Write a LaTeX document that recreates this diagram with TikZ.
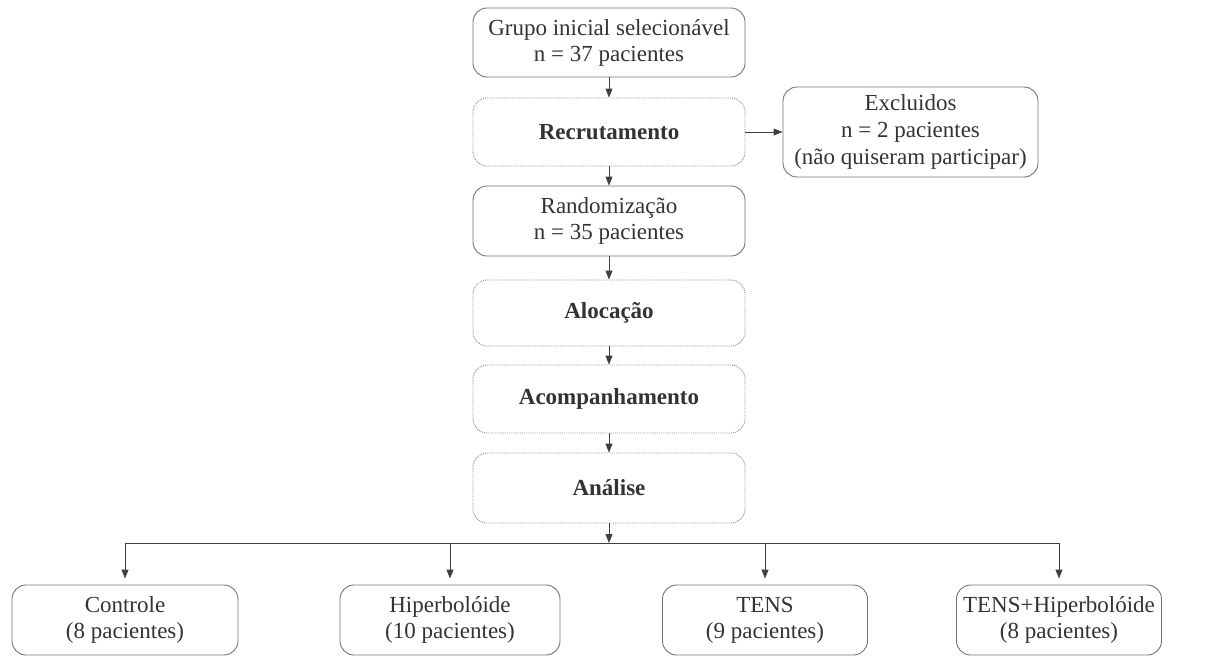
\documentclass[tikz,border=0pt]{standalone}
\usepackage{fontspec}
\setmainfont{Liberation Serif}
\usetikzlibrary{arrows.meta}
\begin{document}
\begin{tikzpicture}[x=1pt,y=-1pt,
  box/.style={draw=black!55, line width=0.9pt, rounded corners=14pt, align=center, text=black!80,
    font=\fontsize{23}{26}\selectfont, inner sep=0pt},
  dotbox/.style={box, draw=black!45, densely dotted},
  arr/.style={draw=black!75, line width=0.9pt, -{Triangle[length=9pt,width=7pt]}},
  ln/.style={draw=black!75, line width=0.9pt}]
\useasboundingbox (0,0) rectangle (1213,657);
\node[box, minimum width=272pt, minimum height=69pt] (top) at (609,42.5) {Grupo inicial selecionável\\n = 37 pacientes};
\node[dotbox, minimum width=272pt, minimum height=68pt] (rec) at (609,132) {\textbf{Recrutamento}};
\node[box, minimum width=272pt, minimum height=70pt] (rand) at (609,221) {Randomização\\n = 35 pacientes};
\node[dotbox, minimum width=272pt, minimum height=66pt] (aloc) at (609,313) {\textbf{Alocação}};
\node[dotbox, minimum width=272pt, minimum height=68pt] (acomp) at (609,399) {\textbf{Acompanhamento}};
\node[dotbox, minimum width=272pt, minimum height=70pt] (anal) at (609,488) {\textbf{Análise}};
\node[box, minimum width=255pt, minimum height=90pt, font=\fontsize{23}{27}\selectfont] (excl) at (910.5,132) {Excluidos\\n = 2 pacientes\\(não quiseram participar)};
\node[box, minimum width=226pt, minimum height=70pt] (c1) at (125,620) {Controle\\(8 pacientes)};
\node[box, minimum width=220pt, minimum height=70pt] (c2) at (450,620) {Hiperbolóide\\(10 pacientes)};
\node[box, minimum width=205pt, minimum height=70pt] (c3) at (765,620) {TENS\\(9 pacientes)};
\node[box, minimum width=205pt, minimum height=70pt] (c4) at (1059,620) {TENS+Hiperbolóide\\(8 pacientes)};
\coordinate (j) at (609,543);
\coordinate (jl) at (125,543);
\coordinate (jr) at (1059,543);
\draw[arr] (top) -- (rec);
\draw[arr] (rec) -- (rand);
\draw[arr] (rand) -- (aloc);
\draw[arr] (aloc) -- (acomp);
\draw[arr] (acomp) -- (anal);
\draw[arr] (rec.east) -- (excl.west);
\draw[arr] (anal.south) -- (j);
\draw[ln] (jl) -- (jr);
\draw[arr, shorten >=6pt] (jl) -- (c1.north);
\draw[arr, shorten >=6pt] (c2.north |- j) -- (c2.north);
\draw[arr, shorten >=6pt] (c3.north |- j) -- (c3.north);
\draw[arr, shorten >=6pt] (jr) -- (c4.north);
\end{tikzpicture}
\end{document}
